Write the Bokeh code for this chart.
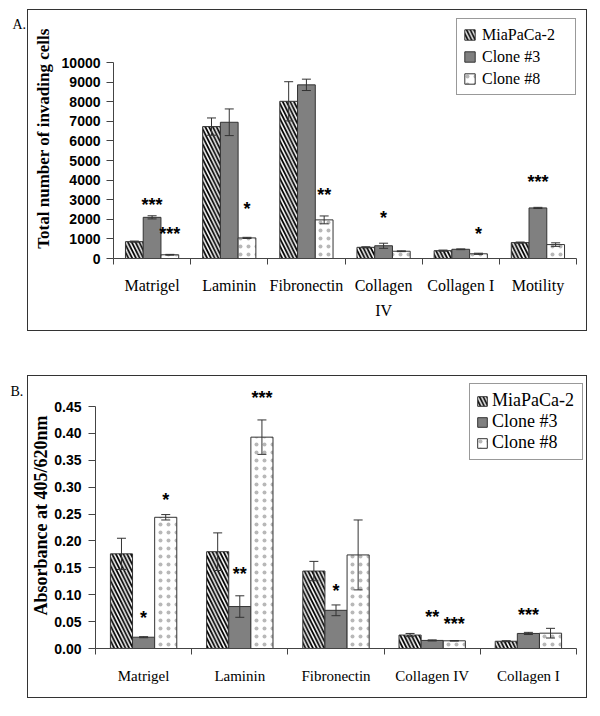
from bokeh.plotting import figure
from bokeh.models import (Range1d, FixedTicker, Whisker, ColumnDataSource, Legend,
                          LegendItem, Label, TeeHead, Spacer)
from bokeh.layouts import column, row
from bokeh.embed import file_html
from bokeh.resources import INLINE
from bokeh.core.properties import value

# ---------------- data ----------------
series = ["MiaPaCa-2", "Clone #3", "Clone #8"]

a_categories = ["Matrigel", "Laminin", "Fibronectin", "Collagen\nIV", "Collagen I", "Motility"]
a_mia = [860, 6730, 8020, 570, 400, 810]
a_mia_err = [30, 440, 1000, 30, 30, 30]
a_c3 = [2100, 6950, 8860, 650, 470, 2580]
a_c3_err = [80, 680, 290, 130, 20, 30]
a_c8 = [190, 1050, 1970, 370, 240, 710]
a_c8_err = [20, 30, 200, 20, 30, 90]
a_yticks = [0, 1000, 2000, 3000, 4000, 5000, 6000, 7000, 8000, 9000, 10000]
a_ylabel = "Total number of invading cells"
a_sig_cat = [0, 0, 1, 2, 3, 4, 5]
a_sig_series = [1, 2, 2, 2, 1, 2, 1]
a_sig_text = ["***", "***", "*", "**", "*", "*", "***"]
a_sig_y = [2960, 1530, 2800, 3470, 2300, 1530, 4180]

b_categories = ["Matrigel", "Laminin", "Fibronectin", "Collagen IV", "Collagen I"]
b_mia = [0.176, 0.180, 0.144, 0.025, 0.0135]
b_mia_err = [0.029, 0.035, 0.018, 0.003, 0.001]
b_c3 = [0.021, 0.078, 0.071, 0.015, 0.028]
b_c3_err = [0.001, 0.020, 0.010, 0.001, 0.002]
b_c8 = [0.244, 0.393, 0.174, 0.0143, 0.0285]
b_c8_err = [0.005, 0.032, 0.065, 0.0005, 0.009]
b_yticks = [0.0, 0.05, 0.10, 0.15, 0.20, 0.25, 0.30, 0.35, 0.40, 0.45]
b_ylabel = "Absorbance at 405/620nm"
b_sig_cat = [0, 0, 1, 1, 2, 3, 3, 4]
b_sig_series = [1, 2, 1, 2, 1, 1, 2, 1]
b_sig_text = ["*", "*", "**", "***", "*", "**", "***", "***"]
b_sig_y = [0.066, 0.286, 0.148, 0.475, 0.117, 0.0675, 0.055, 0.072]

BW = 0.23
SERIF = "Liberation Serif"
SANS = "Liberation Sans"
EDGE = "#333333"


def letter_fig(letter, w, h, x, y):
    f = figure(width=w, height=h, x_range=Range1d(0, w), y_range=Range1d(0, h),
               x_axis_type=None, y_axis_type=None, output_backend="svg",
               toolbar_location=None, min_border=0)
    f.outline_line_color = None
    f.background_fill_color = "white"
    f.border_fill_color = "white"
    f.add_layout(Label(x=x, y=y, text=letter, text_font=SERIF, text_font_size="14px",
                       text_color="black", text_baseline="middle"))
    return f


def panel(cats, vals, errs, yticks, ymax, ylabel, sig, dims, xend, fmt, leg_cfg,
          label_font, label_standoff, label_lh, ylabel_cfg):
    W, H, ml, mr, mt, mb, y_at_max = dims
    n = len(cats)
    frame_bottom = H - mb
    ytop = ymax * (frame_bottom - mt) / float(frame_bottom - y_at_max)
    p = figure(width=W, height=H, x_range=Range1d(0, xend), y_range=Range1d(0, ytop),
               output_backend="svg", toolbar_location=None,
               min_border_left=ml, min_border_right=mr, min_border_top=mt, min_border_bottom=mb,
               styles={"border": "1px solid #333333"})
    p.outline_line_color = None
    p.xgrid.visible = False
    p.ygrid.visible = False
    p.background_fill_color = "white"
    p.border_fill_color = "white"

    styles = [
        dict(fill_color="white", hatch_pattern="\\", hatch_color="black", hatch_weight=1.8, hatch_scale=7.5),
        dict(fill_color="#808080"),
        dict(fill_color="white", hatch_pattern=".", hatch_color="#a0a0a0", hatch_alpha=0.75,
             hatch_weight=0.5, hatch_scale=8),
    ]
    items = []
    for s in range(3):
        xs = [i + 0.5 + (s - 1) * BW for i in range(n)]
        src = ColumnDataSource(dict(x=xs, top=vals[s],
                                    upper=[v + e for v, e in zip(vals[s], errs[s])],
                                    lower=[v - e for v, e in zip(vals[s], errs[s])]))
        r = p.vbar(x="x", top="top", width=BW, bottom=0, source=src,
                   line_color=EDGE, line_width=1, **styles[s])
        w = Whisker(source=src, base="x", upper="upper", lower="lower",
                    line_color=EDGE, line_width=1, level="overlay",
                    upper_head=TeeHead(size=9, line_color=EDGE, line_width=1),
                    lower_head=TeeHead(size=9, line_color=EDGE, line_width=1))
        p.add_layout(w)
        items.append(LegendItem(label=series[s], renderers=[r]))

    scat, sser, stext, sy = sig
    ssrc = ColumnDataSource(dict(x=[c + 0.5 + (s - 1) * BW for c, s in zip(scat, sser)],
                                 y=sy, text=stext))
    p.text(x="x", y="y", text="text", source=ssrc, text_font=value(SANS),
           text_font_style="bold", text_font_size="18px", text_align="center",
           text_baseline="middle", y_offset=5, text_color="black")

    # x axis: labels at category centres, ticks at category boundaries
    xa = p.xaxis[0]
    xa.ticker = FixedTicker(ticks=[i + 0.5 for i in range(n)], minor_ticks=list(range(n + 1)))
    xa.bounds = (0, n)
    xa.major_label_overrides = {i + 0.5: c for i, c in enumerate(cats)}
    xa.major_tick_line_color = None
    xa.major_tick_out = 0
    xa.major_tick_in = 0
    xa.minor_tick_out = 6
    xa.minor_tick_in = 0
    xa.minor_tick_line_color = "#444444"
    xa.axis_line_color = "#444444"
    xa.major_label_text_font = SERIF
    xa.major_label_text_font_size = label_font
    xa.major_label_text_color = "black"
    xa.major_label_standoff = label_standoff
    xa.major_label_text_line_height = label_lh

    ysize, ystand, tstand = ylabel_cfg
    ya = p.yaxis[0]
    ya.ticker = FixedTicker(ticks=yticks, minor_ticks=[])
    ya.bounds = (0, ymax)
    ya.major_label_overrides = {t: fmt(t) for t in yticks}
    ya.major_tick_out = 7
    ya.major_tick_in = 0
    ya.major_tick_line_color = "#444444"
    ya.axis_line_color = "#444444"
    ya.major_label_text_font = SANS
    ya.major_label_text_font_style = "bold"
    ya.major_label_text_font_size = "14px"
    ya.major_label_text_color = "black"
    ya.major_label_standoff = tstand
    ya.axis_label = ylabel
    ya.axis_label_text_font = SERIF
    ya.axis_label_text_font_style = "bold"
    ya.axis_label_text_font_size = ysize
    ya.axis_label_text_color = "black"
    ya.axis_label_standoff = ystand

    font, glyph, pad, lh, sp, lw, margin, stand = leg_cfg
    leg = Legend(items=items, location="top_right", orientation="vertical")
    leg.label_text_font = SERIF
    leg.label_text_font_size = font
    leg.label_text_color = "black"
    leg.glyph_width = glyph
    leg.glyph_height = glyph
    leg.label_height = lh
    leg.label_width = lw
    leg.label_standoff = stand
    leg.spacing = sp
    leg.padding = pad
    leg.margin = margin
    leg.border_line_color = EDGE
    leg.border_line_width = 1
    leg.background_fill_color = "white"
    leg.background_fill_alpha = 1
    p.add_layout(leg)
    return p


pA = panel(a_categories, [a_mia, a_c3, a_c8], [a_mia_err, a_c3_err, a_c8_err],
           a_yticks, 10000, a_ylabel,
           (a_sig_cat, a_sig_series, a_sig_text, a_sig_y),
           (560, 322, 85, 12, 8, 74, 52), 6, lambda t: str(int(t)),
           ("16px", 13, 6, 19, 3, 87, 0, 6), "16px", 12, 1.5, ("17px", 6, 6))

pB = panel(b_categories, [b_mia, b_c3, b_c8], [b_mia_err, b_c3_err, b_c8_err],
           b_yticks, 0.45, b_ylabel,
           (b_sig_cat, b_sig_series, b_sig_text, b_sig_y),
           (560, 323, 67, 4, 6, 51, 30), 5 * 489 / 481.0, lambda t: "%.2f" % t,
           ("18px", 12, 6, 20, 0, 84, 1, 4), "15px", 13, 1.2, ("18px", 0, 7))

lA = letter_fig("A.", 27, 324, 12, 315)
lB = letter_fig("B.", 27, 325, 10, 313)

layout = column(Spacer(height=9), row(lA, pA), Spacer(height=42), row(lB, pB))
open("out.html", "w").write(file_html(layout, INLINE))
